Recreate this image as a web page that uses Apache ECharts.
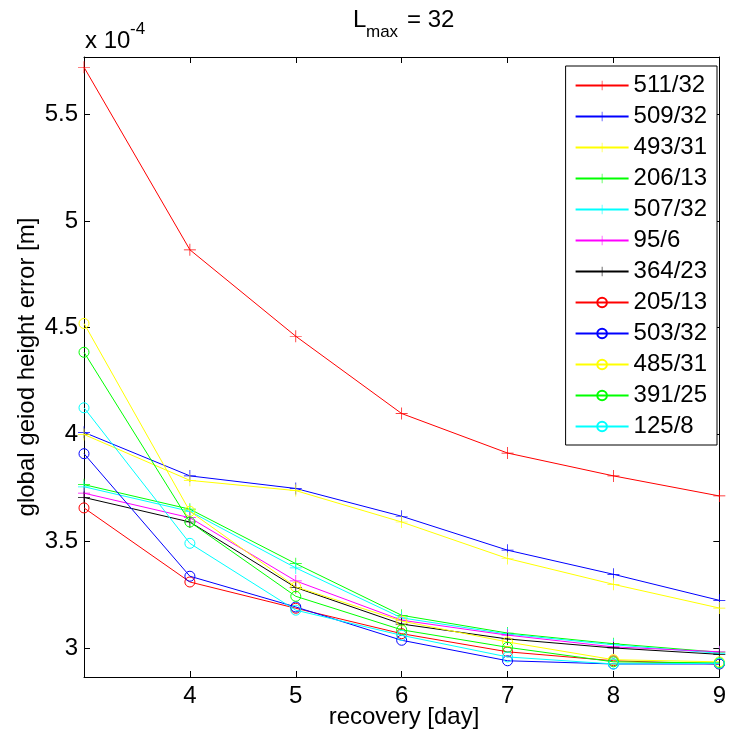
<!DOCTYPE html>
<html>
<head>
<meta charset="utf-8">
<script src="https://cdn.jsdelivr.net/npm/echarts@6/dist/echarts.min.js"></script>
<style>
html,body{margin:0;padding:0;background:#fff;}
#chart{width:729px;height:734px;}
</style>
</head>
<body>
<div id="chart"></div>
<script>
// ---- data (values in units of 1e-4 m) ----
const days = [3, 4, 5, 6, 7, 8, 9];
const xTickValues = [4, 5, 6, 7, 8, 9];
const yTickValues = [3, 3.5, 4, 4.5, 5, 5.5];
const seriesNames = ['511/32', '509/32', '493/31', '206/13', '507/32', '95/6', '364/23',
                     '205/13', '503/32', '485/31', '391/25', '125/8'];
const s511_32 = [5.72, 4.865, 4.46, 4.098, 3.913, 3.806, 3.712];
const s509_32 = [4.01, 3.806, 3.747, 3.617, 3.458, 3.345, 3.223];
const s493_31 = [4.00, 3.785, 3.737, 3.590, 3.419, 3.298, 3.187];
const s206_13 = [3.765, 3.650, 3.395, 3.153, 3.070, 3.020, 2.980];
const s507_32 = [3.755, 3.640, 3.375, 3.141, 3.065, 3.015, 2.975];
const s95_6   = [3.725, 3.610, 3.314, 3.130, 3.060, 3.005, 2.982];
const s364_23 = [3.705, 3.590, 3.283, 3.112, 3.042, 3.000, 2.970];
const s205_13 = [3.656, 3.309, 3.186, 3.067, 2.982, 2.940, 2.925];
const s503_32 = [3.910, 3.336, 3.192, 3.036, 2.940, 2.925, 2.925];
const s485_31 = [4.520, 3.640, 3.286, 3.126, 3.028, 2.945, 2.935];
const s391_25 = [4.385, 3.590, 3.242, 3.085, 3.003, 2.935, 2.930];
const s125_8  = [4.125, 3.490, 3.177, 3.059, 2.958, 2.925, 2.928];
const seriesValues = [s511_32, s509_32, s493_31, s206_13, s507_32, s95_6, s364_23,
                      s205_13, s503_32, s485_31, s391_25, s125_8];

// ---- styles ----
const seriesColors = ['#ff0000', '#0000ff', '#ffff00', '#00ff00', '#00ffff', '#ff00ff', '#000000',
                      '#ff0000', '#0000ff', '#ffff00', '#00ff00', '#00ffff'];
const seriesMarkers = ['plus','plus','plus','plus','plus','plus','plus',
                       'circle','circle','circle','circle','circle'];
const PLUS = 'path://M9.4,0H10.6V9.4H20V10.6H10.6V20H9.4V10.6H0V9.4H9.4Z';
const FONT = '"Liberation Sans", Arial, Helvetica, sans-serif';

const series = seriesNames.map((name, i) => {
  const c = seriesColors[i];
  const isPlus = seriesMarkers[i] === 'plus';
  return {
    name: name,
    type: 'line',
    data: days.map((d, k) => [d, seriesValues[i][k]]),
    symbol: isPlus ? PLUS : 'circle',
    symbolSize: isPlus ? 12 : 10,
    showAllSymbol: true,
    clip: false,
    lineStyle: { color: c, width: 1 },
    itemStyle: isPlus ? { color: c } : { color: 'rgba(255,255,255,0)', borderColor: c, borderWidth: 1 },
    emphasis: { disabled: true },
    animation: false,
    z: 2 + i * 0.01
  };
});

const axisLineStyle = { lineStyle: { color: '#000', width: 1 } };
const chart = echarts.init(document.getElementById('chart'), null, { renderer: 'canvas' });
chart.setOption({
  backgroundColor: '#fff',
  animation: false,
  textStyle: { fontFamily: FONT },
  grid: { left: 84, right: 5, top: 57, bottom: 57, containLabel: false },
  xAxis: [
    { type: 'value', position: 'bottom', min: 3, max: 9,
      axisLine: axisLineStyle, splitLine: { show: false },
      axisTick: { inside: true, length: 6, customValues: xTickValues, lineStyle: { color: '#000' } },
      axisLabel: { customValues: xTickValues, margin: 7, color: '#000', fontSize: 24, fontFamily: FONT } },
    { type: 'value', position: 'top', min: 3, max: 9,
      axisLine: axisLineStyle, splitLine: { show: false },
      axisTick: { inside: true, length: 6, customValues: xTickValues, lineStyle: { color: '#000' } },
      axisLabel: { show: false } }
  ],
  yAxis: [
    { type: 'value', position: 'left', min: 2.864, max: 5.768,
      axisLine: { show: true, lineStyle: { color: '#000', width: 1 } }, splitLine: { show: false },
      axisTick: { show: true, inside: true, length: 6, customValues: yTickValues, lineStyle: { color: '#000' } },
      axisLabel: { customValues: yTickValues, margin: 6, color: '#000', fontSize: 24, fontFamily: FONT } },
    { type: 'value', position: 'right', min: 2.864, max: 5.768,
      axisLine: { show: true, lineStyle: { color: '#000', width: 1 } }, splitLine: { show: false },
      axisTick: { show: true, inside: true, length: 6, customValues: yTickValues, lineStyle: { color: '#000' } },
      axisLabel: { show: false } }
  ],
  legend: {
    orient: 'vertical',
    right: 12, top: 66,
    data: seriesNames,
    itemWidth: 53, itemHeight: 12, itemGap: 0,
    padding: [4, 10, 3, 9],
    borderColor: '#000', borderWidth: 1, borderRadius: 0,
    backgroundColor: '#fff',
    selectedMode: false,
    textStyle: { fontSize: 24, lineHeight: 31, color: '#000', fontFamily: FONT }
  },
  graphic: [
    { type: 'text', x: 353, y: 20, style: { text: 'L', fontSize: 24, fontFamily: FONT, fill: '#000', verticalAlign: 'middle' } },
    { type: 'text', x: 366, y: 32, style: { text: 'max', fontSize: 17, fontFamily: FONT, fill: '#000', verticalAlign: 'middle' } },
    { type: 'text', x: 407, y: 20, style: { text: '= 32', fontSize: 24, fontFamily: FONT, fill: '#000', verticalAlign: 'middle' } },
    { type: 'text', x: 85, y: 41, style: { text: 'x 10', fontSize: 24, fontFamily: FONT, fill: '#000', verticalAlign: 'middle' } },
    { type: 'text', x: 130, y: 29, style: { text: '-4', fontSize: 17, fontFamily: FONT, fill: '#000', verticalAlign: 'middle' } },
    { type: 'text', x: 27, y: 367, rotation: Math.PI / 2,
      style: { text: 'global geiod height error [m]', fontSize: 24, fontFamily: FONT, fill: '#000', align: 'center', verticalAlign: 'middle' } },
    { type: 'text', x: 404, y: 717,
      style: { text: 'recovery [day]', fontSize: 24, fontFamily: FONT, fill: '#000', align: 'center', verticalAlign: 'middle' } }
  ],
  series: series
});
</script>
</body>
</html>
